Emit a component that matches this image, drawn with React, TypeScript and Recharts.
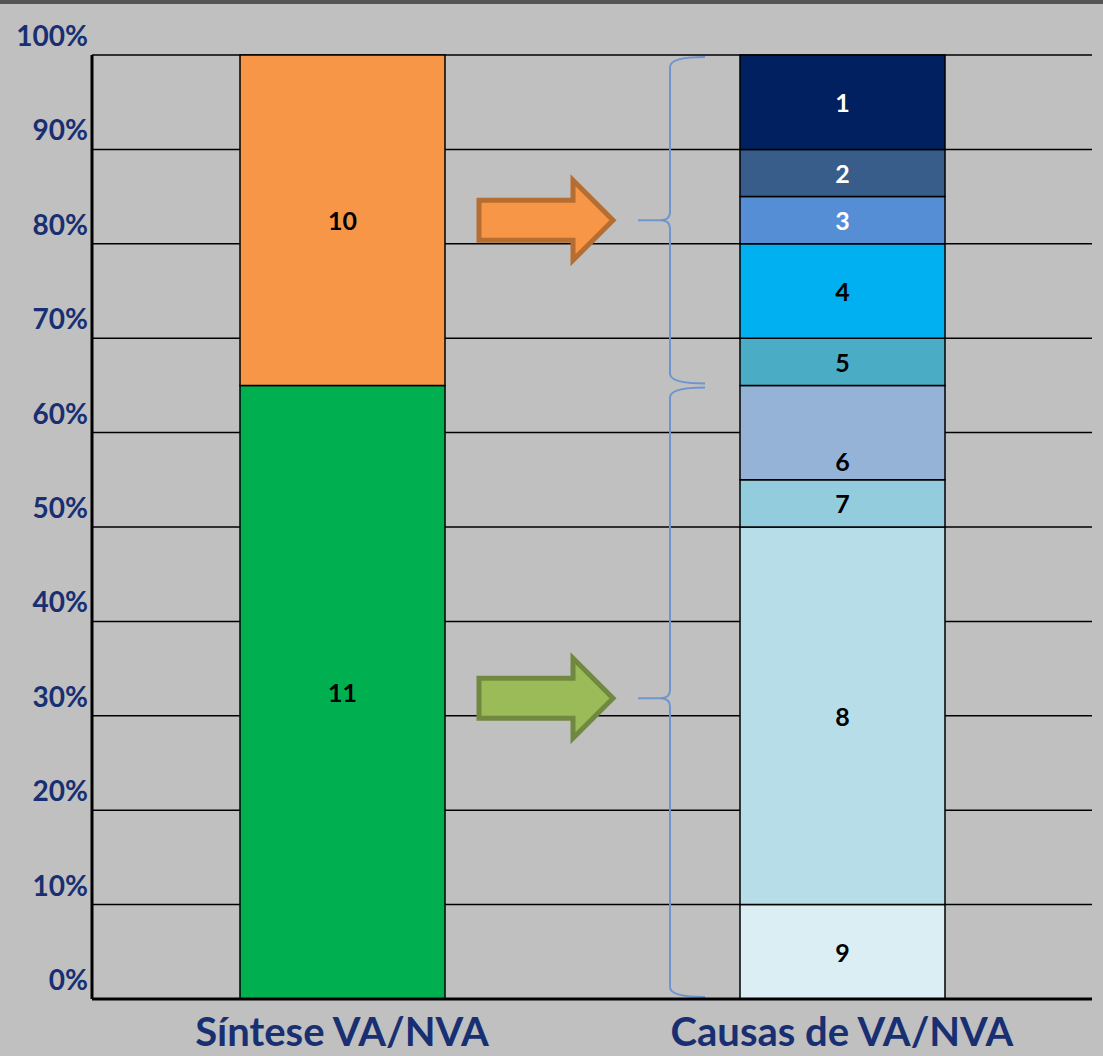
import React from 'react';
import { BarChart, Bar, XAxis, YAxis, CartesianGrid, ReferenceArea, LabelList } from 'recharts';

const categories = ['Síntese VA/NVA', 'Causas de VA/NVA'];
const synthKeys = ['11', '10'];
const synthValues = [65, 35];
const synthColors = ['#00b050', '#f79646'];
const causeKeys = ['9', '8', '7', '6', '5', '4', '3', '2', '1'];
const causeValues = [10, 40, 5, 10, 5, 10, 5, 5, 10];
const causeColors = ['#dbeef4', '#b7dde8', '#93cddd', '#95b3d7', '#4bacc6', '#00b0f0', '#558ed5', '#385d8a', '#002060'];
const causeLabelColors = ['#000', '#000', '#000', '#000', '#000', '#000', '#fff', '#fff', '#fff'];
const yTicks = [0, 10, 20, 30, 40, 50, 60, 70, 80, 90, 100];
const groupBreak = 65;

const row0: any = { cat: categories[0] };
synthKeys.forEach((k, i) => (row0['s' + k] = synthValues[i]));
const row1: any = { cat: categories[1] };
causeKeys.forEach((k, i) => (row1['c' + k] = causeValues[i]));
const data = [row0, row1];

const series = [
  ...synthKeys.map((k, i) => ({ key: 's' + k, name: k, color: synthColors[i], label: '#000', dy: 0 })),
  ...causeKeys.map((k, i) => ({ key: 'c' + k, name: k, color: causeColors[i], label: causeLabelColors[i], dy: k === '6' ? 28 : 0 })),
];

const BLUE = '#182f72';
const FONT = 'Lato, "Open Sans", sans-serif';

const makeLabel = (name: string, color: string, dy: number) => (props: any) => {
  const { x, y, width, height, value } = props;
  if (value == null || !height) return null;
  const h = Number(height);
  return (
    <text
      x={Number(x) + Number(width) / 2}
      y={Number(y) + h / 2 + dy}
      textAnchor="middle"
      dominantBaseline="central"
      fill={color}
      fontSize={25}
      fontWeight="bold"
      fontFamily={FONT}
    >
      {name}
    </text>
  );
};

const Decor = (props: any) => {
  const { x, y, width, height, fillA, strokeA, dyA } = props;
  const px = (f: number) => x + f * width;
  const y0 = y + 2;
  const y1 = y + height - 2;
  const ym = y + height / 2 + dyA;
  const bl = px(0.387);
  const hb = px(0.481);
  const tip = px(0.521);
  const arrow = `M${bl},${ym - 20} L${hb},${ym - 20} L${hb},${ym - 40} L${tip},${ym} L${hb},${ym + 40} L${hb},${ym + 20} L${bl},${ym + 20} Z`;
  const vx = px(0.578);
  const hx = px(0.613);
  const tx = px(0.546);
  const brace = `M${hx},${y0} Q${vx},${y0} ${vx},${y0 + 10} L${vx},${ym - 8} Q${vx},${ym} ${vx - 10},${ym} L${tx},${ym} M${vx - 10},${ym} Q${vx},${ym} ${vx},${ym + 8} L${vx},${y1 - 10} Q${vx},${y1} ${hx},${y1}`;
  return (
    <g>
      <path d={arrow} fill={fillA} stroke={strokeA} strokeWidth={5} strokeLinejoin="miter" />
      <path d={brace} fill="none" stroke="#6f96cc" strokeWidth={2} />
    </g>
  );
};

const YTick = (props: any) => {
  const { x, y, payload } = props;
  return (
    <text x={x - 4} y={y - 20} textAnchor="end" dominantBaseline="central" fill={BLUE} fontSize={28} fontWeight="bold" fontFamily={FONT}>
      {payload.value}%
    </text>
  );
};

const XTick = (props: any) => {
  const { x, y, payload } = props;
  return (
    <text x={x} y={y + 47} textAnchor="middle" fill={BLUE} fontSize={40} fontWeight="bold" fontFamily={FONT}>
      {payload.value}
    </text>
  );
};

export default function App() {
  return (
    <div style={{ position: 'absolute', left: 0, top: 0, width: 1103, height: 1056, background: '#c0c0c0', overflow: 'hidden' }}>
      <div style={{ position: 'absolute', left: 0, top: 0, width: 1103, height: 4, background: '#555' }} />
      <BarChart width={1103} height={1056} data={data} margin={{ top: 55, right: 11, left: 0, bottom: 0 }} barSize={205}>
        <CartesianGrid vertical={false} stroke="#000" strokeWidth={1.5} strokeDasharray="" />
        <XAxis
          dataKey="cat"
          height={57}
          axisLine={{ stroke: '#000', strokeWidth: 3 }}
          tickLine={false}
          tickSize={0}
          tickMargin={0}
          tick={<XTick />}
          interval={0}
        />
        <YAxis
          domain={[0, 100]}
          ticks={yTicks}
          width={92}
          axisLine={{ stroke: '#000', strokeWidth: 3 }}
          tickLine={false}
          tickSize={0}
          tickMargin={0}
          tick={<YTick />}
          interval={0}
        />
        {series.map((s) => (
          <Bar key={s.key} dataKey={s.key} stackId="a" fill={s.color} stroke="#000" strokeWidth={1.5} isAnimationActive={false}>
            <LabelList dataKey={s.key} content={makeLabel(s.name, s.label, s.dy)} />
          </Bar>
        ))}
        <ReferenceArea
          y1={groupBreak}
          y2={100}
          fill="none"
          stroke="none"
          ifOverflow="visible"
          shape={(p: any) => <Decor {...p} fillA="#f79646" strokeA="#b66d31" dyA={0} />}
        />
        <ReferenceArea
          y1={0}
          y2={groupBreak}
          fill="none"
          stroke="none"
          ifOverflow="visible"
          shape={(p: any) => <Decor {...p} fillA="#9bbb59" strokeA="#71893f" dyA={6} />}
        />
      </BarChart>
    </div>
  );
}
